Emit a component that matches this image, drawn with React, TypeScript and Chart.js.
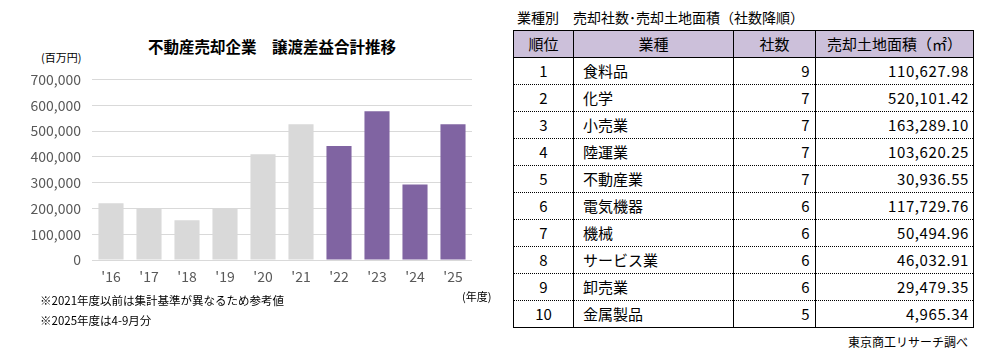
import React, { useEffect, useRef } from "react";
import { Chart, registerables } from "chart.js";

Chart.register(...registerables);

const years = ["'16", "'17", "'18", "'19", "'20", "'21", "'22", "'23", "'24", "'25"];
const gains = [220000, 199000, 154000, 200000, 410000, 526000, 442000, 577000, 293000, 526000];
const barColors = ["#D9D9D9", "#D9D9D9", "#D9D9D9", "#D9D9D9", "#D9D9D9", "#D9D9D9", "#8064A2", "#8064A2", "#8064A2", "#8064A2"];

const ranks = [1, 2, 3, 4, 5, 6, 7, 8, 9, 10];
const industries = ["食料品", "化学", "小売業", "陸運業", "不動産業", "電気機器", "機械", "サービス業", "卸売業", "金属製品"];
const companyCounts = [9, 7, 7, 7, 7, 6, 6, 6, 6, 5];
const landAreas = ["110,627.98", "520,101.42", "163,289.10", "103,620.25", "30,936.55", "117,729.76", "50,494.96", "46,032.91", "29,479.35", "4,965.34"];

const FONT = "'Noto Sans CJK JP', 'Noto Sans', sans-serif";

function BarChart() {
  const ref = useRef<HTMLCanvasElement | null>(null);
  useEffect(() => {
    if (!ref.current) return;
    const chart = new Chart(ref.current, {
      type: "bar",
      data: {
        labels: years,
        datasets: [
          {
            data: gains,
            backgroundColor: barColors,
            barPercentage: 0.66,
            categoryPercentage: 1,
          },
        ],
      },
      options: {
        animation: false,
        responsive: false,
        maintainAspectRatio: false,
        layout: { padding: { top: 19, right: 0, bottom: 0, left: 0 } },
        plugins: { legend: { display: false }, tooltip: { enabled: false }, title: { display: false } },
        scales: {
          x: {
            grid: { display: false, drawTicks: false },
            border: { display: false },
            ticks: { color: "#595959", font: { family: FONT, size: 14 }, padding: 8 },
            afterFit: (s: any) => {
              s.height = 30;
            },
          },
          y: {
            min: 0,
            max: 700000,
            grid: { color: "#D9D9D9", drawTicks: false, lineWidth: 1 },
            border: { display: false },
            ticks: {
              stepSize: 100000,
              color: "#595959",
              font: { family: FONT, size: 14 },
              padding: 11,
              callback: (v: any) => Number(v).toLocaleString("en-US"),
            },
            afterFit: (s: any) => {
              s.width = 92;
            },
          },
        },
      },
    });
    return () => chart.destroy();
  }, []);
  return (
    <canvas
      ref={ref}
      width={472}
      height={230}
      style={{ position: "absolute", left: 0, top: 60, width: 472, height: 230 }}
    />
  );
}

export default function App() {
  const cellBase: React.CSSProperties = {
    borderLeft: "1px solid #000",
    borderRight: "1px solid #000",
    padding: 0,
    height: 26,
    fontSize: 15,
    lineHeight: "26px",
    whiteSpace: "nowrap",
  };
  return (
    <div
      style={{
        position: "absolute",
        left: 0,
        top: 0,
        width: 998,
        height: 359,
        background: "#fff",
        fontFamily: FONT,
        color: "#000",
        overflow: "hidden",
      }}
    >
      <div
        style={{
          position: "absolute",
          left: 122,
          width: 300,
          top: 35,
          textAlign: "center",
          fontSize: 15.5,
          fontWeight: "bold",
          whiteSpace: "nowrap",
          lineHeight: "22px",
        }}
      >
        不動産売却企業　譲渡差益合計推移
      </div>
      <div style={{ position: "absolute", left: 41, top: 50, fontSize: 11, lineHeight: "14px", color: "#000" }}>(百万円)</div>
      <BarChart />
      <div style={{ position: "absolute", left: 462, top: 289, fontSize: 11, lineHeight: "14px" }}>(年度)</div>
      <div style={{ position: "absolute", left: 40, top: 292, fontSize: 11.5, lineHeight: "16px", whiteSpace: "nowrap" }}>
        ※2021年度以前は集計基準が異なるため参考値
      </div>
      <div style={{ position: "absolute", left: 40, top: 312, fontSize: 11.5, lineHeight: "16px", whiteSpace: "nowrap" }}>
        ※2025年度は4-9月分
      </div>

      <div style={{ position: "absolute", left: 517, top: 7, fontSize: 14, lineHeight: "20px", whiteSpace: "nowrap" }}>
        業種別　売却社数･売却土地面積（社数降順）
      </div>
      <table
        style={{
          position: "absolute",
          left: 513,
          top: 30,
          width: 460,
          borderCollapse: "collapse",
          tableLayout: "fixed",
          border: "1px solid #000",
        }}
      >
        <colgroup>
          <col style={{ width: 60 }} />
          <col style={{ width: 160 }} />
          <col style={{ width: 82 }} />
          <col style={{ width: 158 }} />
        </colgroup>
        <thead>
          <tr style={{ background: "#CCC0DA" }}>
            {["順位", "業種", "社数", "売却土地面積（㎡）"].map((h) => (
              <th key={h} style={{ ...cellBase, fontWeight: "normal", textAlign: "center", borderBottom: "1px solid #000" }}>
                {h}
              </th>
            ))}
          </tr>
        </thead>
        <tbody>
          {ranks.map((r, i) => {
            const bb = i < ranks.length - 1 ? "1px dotted #000" : "1px solid #000";
            return (
              <tr key={r}>
                <td style={{ ...cellBase, textAlign: "center", borderBottom: bb }}>{r}</td>
                <td style={{ ...cellBase, textAlign: "left", paddingLeft: 9, borderBottom: bb }}>{industries[i]}</td>
                <td style={{ ...cellBase, textAlign: "right", paddingRight: 5, borderBottom: bb, letterSpacing: 0.5 }}>
                  {companyCounts[i]}
                </td>
                <td style={{ ...cellBase, textAlign: "right", paddingRight: 4, borderBottom: bb, letterSpacing: 0.6 }}>
                  {landAreas[i]}
                </td>
              </tr>
            );
          })}
        </tbody>
      </table>
      <div style={{ position: "absolute", left: 800, width: 168, top: 334, textAlign: "right", fontSize: 12, lineHeight: "16px" }}>
        東京商工リサーチ調べ
      </div>
    </div>
  );
}
